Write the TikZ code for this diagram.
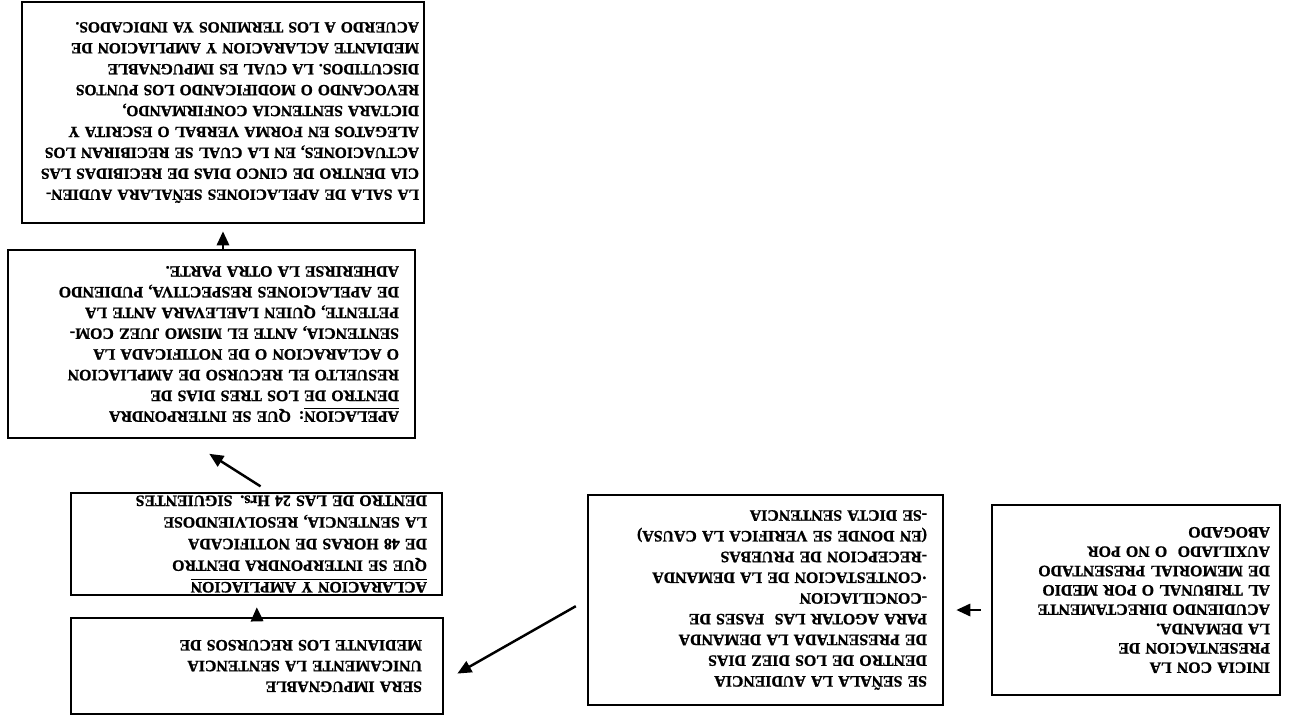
\documentclass[tikz,border=0pt]{standalone}
\usepackage{fontspec}
\setmainfont{Liberation Serif}[BoldFeatures={FakeBold=1.2}]
\usetikzlibrary{arrows.meta}
\tikzstyle{caja} = [draw, line width=1.5pt, rectangle, inner ysep=0pt, align=left, font=\fontsize{9}{11.8}\selectfont\bfseries]
\tikzstyle{flecha} = [-{Triangle[length=8pt,width=7pt]}, line width=1.4pt]

\begin{document}
\begin{tikzpicture}
\begin{scope}[rotate=180, transform shape]
	\useasboundingbox (0,0) rectangle (25.86,14.42);
	\node[caja, text width=5.36cm, inner xsep=0.2cm, minimum height=3.8cm, font=\fontsize{9}{11}\selectfont\bfseries](inicio) at (3.14,12.0){
		INICIA CON LA\\
		PRESENTACION DE\\
		LA DEMANDA.\\
		ACUDIENDO DIRECTAMENTE\\
		AL TRIBUNAL O POR MEDIO\\
		DE MEMORIAL PRESENTADO\\
		AUXILIADO\ \ O NO POR\\
		ABOGADO};
	\node[caja, text width=6.46cm, inner xsep=0.32cm, minimum height=4.2cm](audiencia) at (10.55,12.0){
		SE SEÑALA LA AUDIENCIA\\
		DENTRO DE LOS DIEZ DIAS\\
		DE PRESENTADA LA DEMANDA\\
		PARA AGOTAR LAS\ \ FASES DE\\
		-CONCILIACION\\
		·CONTESTACION DE LA DEMANDA\\
		-RECEPCION DE PRUEBAS\\
		(EN DONDE SE VERIFICA LA CAUSA)\\
		-SE DICTA SENTENCIA};
	\node[caja, text width=6.6cm, inner xsep=0.42cm, minimum height=1.92cm](impugnable) at (20.72,13.32){
		SERA IMPUGNABLE\\
		UNICAMENTE LA SENTENCIA\\
		MEDIANTE LOS RECURSOS DE};
	\node[caja, text width=6.82cm, inner xsep=0.3cm, minimum height=2.04cm, font=\fontsize{9}{12.3}\selectfont\bfseries](aclaracion) at (20.73,10.88){
		\underline{ACLARACION Y AMPLIACION}\\
		QUE SE INTERPONDRA DENTRO\\
		DE 48 HORAS DE NOTIFICADA\\
		LA SENTENCIA, RESOLVIENDOSE\\
		DENTRO DE LAS 24 Hrs. SIGUIENTES};
	\node[caja, text width=7.5cm, inner xsep=0.32cm, minimum height=3.76cm](apelacion) at (21.63,6.88){
		\underline{APELACION}: QUE SE INTERPONDRA\\
		DENTRO DE LOS TRES DIAS DE\\
		RESUELTO EL RECURSO DE AMPLIACION\\
		O ACLARACION O DE NOTIFICADA LA\\
		SENTENCIA, ANTE EL MISMO JUEZ COM-\\
		PETENTE, QUIEN LAELEVARA ANTE LA\\
		DE APELACIONES RESPECTIVA, PUDIENDO\\
		ADHERIRSE LA OTRA PARTE.};
	\node[caja, text width=7.84cm, inner xsep=0.1cm, minimum height=4.42cm, font=\fontsize{8.8}{11.9}\selectfont\bfseries](sala) at (21.4,2.25){
		LA SALA DE APELACIONES SEÑALARA AUDIEN-\\
		CIA DENTRO DE CINCO DIAS DE RECIBIDAS LAS\\
		ACTUACIONES, EN LA CUAL SE RECIBIRAN LOS\\
		ALEGATOS EN FORMA VERBAL O ESCRITA Y\\
		DICTARA SENTENCIA CONFIRMANDO,\\
		REVOCANDO O MODIFICANDO LOS PUNTOS\\
		DISCUTIDOS. LA CUAL ES IMPUGNABLE\\
		MEDIANTE ACLARACION Y AMPLIACION DE\\
		ACUERDO A LOS TERMINOS YA INDICADOS.};
	% flechas entre cajas
	\draw[flecha, shorten <=0.2cm, shorten >=0.24cm] ([yshift=0.2cm]inicio.east) -- ([yshift=0.2cm]audiencia.west);
	\draw[flecha, shorten <=0.25cm, shorten >=0.3cm] (audiencia.east) -- ([yshift=0.3cm]impugnable.west);
	\draw[flecha, shorten >=0.22cm] (impugnable.south) -- (aclaracion.north);
	\draw[flecha, shorten <=0.2cm, shorten >=0.54cm] ([xshift=-0.25cm]aclaracion.south) -- ([xshift=0.5cm]apelacion.north);
	\draw[flecha, shorten >=0.14cm] (apelacion.south -| sala.north) -- (sala.north);
\end{scope}
\end{tikzpicture}
\end{document}
